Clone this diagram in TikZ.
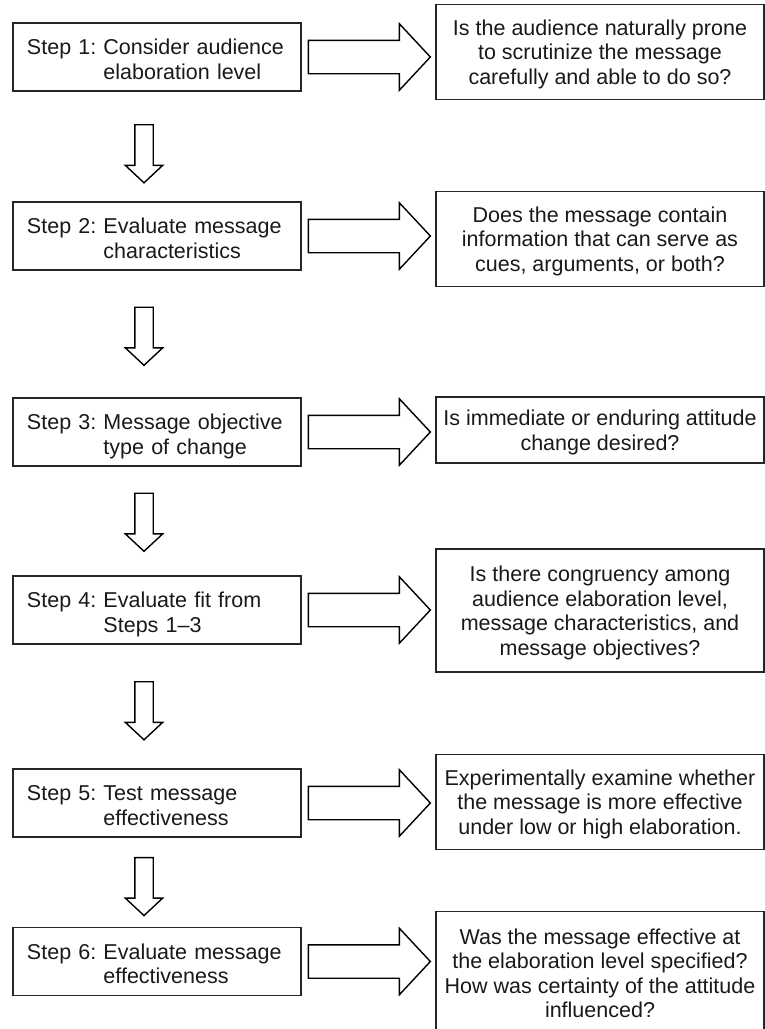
\documentclass[tikz,border=0pt]{standalone}
\usepackage{fontspec}
\setmainfont{Liberation Sans}
\usetikzlibrary{shapes.arrows, calc}

\newcommand{\steptext}[3]{\raisebox{-5pt}[\height][\depth]{\begin{tabular}{@{}l@{\ }l@{}}Step #1: & #2\\ & #3\end{tabular}}}
\newcommand{\asktext}[1]{\raisebox{-3pt}[\height][\depth]{\begin{tabular}{@{}c@{}}#1\end{tabular}}}

\begin{document}
\begin{tikzpicture}[x=1pt,y=-1pt,
  stepbox/.style={draw=black!85, line width=1.3pt, minimum width=288pt, minimum height=68pt, text width=260pt, inner xsep=14pt, align=left, text=black!90, font=\fontsize{21.5}{24.5}\selectfont},
  askbox/.style={draw=black!85, line width=1.3pt, minimum width=328pt, inner ysep=10.5pt, text=black!90, font=\fontsize{21.5}{24.5}\selectfont},
  rarrow/.style={single arrow, draw=black, line width=1.4pt, inner xsep=0pt, inner ysep=16pt, minimum height=122pt, single arrow head extend=16.5pt, single arrow tip angle=94, anchor=tail},
  darrow/.style={single arrow, draw=black, line width=1.4pt, inner xsep=0pt, inner ysep=8.5pt, minimum height=58pt, single arrow head extend=9.5pt, single arrow tip angle=94, rotate=-90}]
\clip (0,0) rectangle (765,1029);
\node[stepbox] (s1) at (157,57) {\steptext{1}{Consider audience}{elaboration level}};
\node[stepbox] (s2) at (157,236) {\steptext{2}{Evaluate message}{characteristics}};
\node[stepbox] (s3) at (157,432) {\steptext{3}{Message objective}{type of change}};
\node[stepbox] (s4) at (157,610) {\steptext{4}{Evaluate fit from}{Steps 1--3}};
\node[stepbox] (s5) at (157,803) {\steptext{5}{Test message}{effectiveness}};
\node[stepbox] (s6) at (157,961.5) {\steptext{6}{Evaluate message}{effectiveness}};
\node[askbox] (q1) at (600,52) {\asktext{Is the audience naturally prone\\to scrutinize the message\\carefully and able to do so?}};
\node[askbox] (q2) at (600,239) {\asktext{Does the message contain\\information that can serve as\\cues, arguments, or both?}};
\node[askbox, inner ysep=8.5pt] (q3) at (600,430) {\asktext{Is immediate or enduring attitude\\change desired?}};
\node[askbox, minimum height=123pt] (q4) at (600,610.5) {\asktext{Is there congruency among\\audience elaboration level,\\message characteristics, and\\message objectives?}};
\node[askbox] (q5) at (600,802) {\asktext{Experimentally examine whether\\the message is more effective\\under low or high elaboration.}};
\node[askbox, minimum height=123pt] (q6) at (600,973) {\asktext{Was the message effective at\\the elaboration level specified?\\How was certainty of the attitude\\influenced?}};
\node[rarrow] (r1) at ($(s1.east)+(6,0)$) {};
\node[rarrow] (r2) at ($(s2.east)+(6,0)$) {};
\node[rarrow] (r3) at ($(s3.east)+(6,0)$) {};
\node[rarrow] (r4) at ($(s4.east)+(6,0)$) {};
\node[rarrow] (r5) at ($(s5.east)+(6,0)$) {};
\node[rarrow] (r6) at ($(s6.east)+(6,0)$) {};
\node[darrow] (d1) at ($(s1.south)!0.5!(s2.north)+(-13,3)$) {};
\node[darrow] (d2) at ($(s2.south)!0.5!(s3.north)+(-13,-2)$) {};
\node[darrow] (d3) at ($(s3.south)!0.5!(s4.north)+(-13,-3)$) {};
\node[darrow] (d4) at ($(s4.south)!0.5!(s5.north)+(-13,0)$) {};
\node[darrow] (d5) at ($(s5.south)!0.5!(s6.north)+(-13,0)$) {};
\end{tikzpicture}
\end{document}
